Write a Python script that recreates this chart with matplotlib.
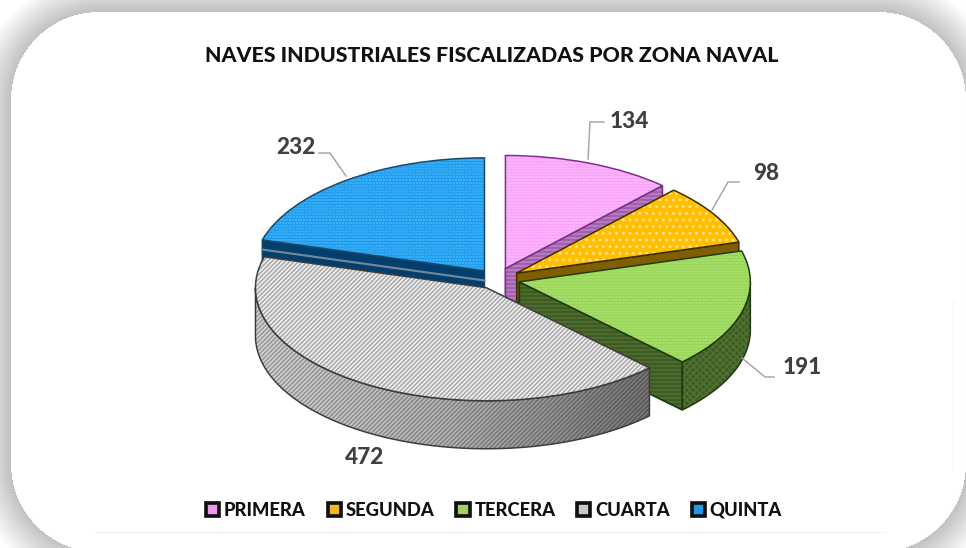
import numpy as np
import matplotlib
matplotlib.use("Agg")
import matplotlib as mpl
import matplotlib.pyplot as plt
from matplotlib.patches import Polygon, Wedge, Patch
from matplotlib.colors import LinearSegmentedColormap

# ---- data -------------------------------------------------
title = "NAVES INDUSTRIALES FISCALIZADAS POR ZONA NAVAL"
zonas = ["PRIMERA", "SEGUNDA", "TERCERA", "CUARTA", "QUINTA"]
naves = [134, 98, 191, 472, 232]
explode = [0.1, 0.1, 0.1, 0.09, 0.09]
# -----------------------------------------------------------

W, H, DPI = 966, 548, 120
FONT = "Lato"
top_col = ["#F99BF9", "#FFBE00", "#92D24E", "#F3F3F3", "#1197EE"]
top_hatch = [".......", "...", ".......", "/////////", "......."]
top_hcol = ["#FFC8FF", "#FFE48A", "#B4E67E", "#ABABAB", "#55BBF8"]
top_hlw = [0.3, 0.5, 0.3, 1.3, 0.3]
edge_col = ["#7A2F8A", "#3C2C00", "#1F3A10", "#3C3C3C", "#1B4766"]
wall_col = ["#A45FAE", "#7F5F00", "#3E5C22", "#999999", "#023F6E"]
wall_hcol = ["#B883C0", "#7F5F00", "#4E7030", "#00000048", "#023F6E"]
wall_hatch = ["-----", "", "-----", "/////////", ""]
draw_order = [0, 1, 4, 2, 3]
rx, ry, cx_px, cy_px, depth_px = 231, 113, 497, 279, 48
depth = depth_px / ry


def with_hatch_lw(patch, lw):
    orig = patch.draw
    def draw(renderer):
        with mpl.rc_context({"hatch.linewidth": lw}):
            orig(renderer)
    patch.draw = draw
    return patch


fig = plt.figure(figsize=(W / DPI, H / DPI), dpi=DPI, facecolor="white")

# card background with soft shadow
bg = fig.add_axes([0, 0, 1, 1], zorder=0)
yy, xx = np.mgrid[0:H, 0:W]
l, t, r_, b, rad = 11, 12, 965, 552, 88
qx = np.abs(xx + .5 - (l + r_) / 2) - ((r_ - l) / 2 - rad)
qy = np.abs(yy + .5 - (t + b) / 2) - ((b - t) / 2 - rad)
dist = np.hypot(np.maximum(qx, 0), np.maximum(qy, 0)) + np.minimum(np.maximum(qx, qy), 0) - rad
shade = 255 - 62 * np.clip(1 - dist / 36, 0, 1)
shade = np.where(dist < 0, 255, shade)
bg.imshow(shade, cmap="gray", vmin=0, vmax=255, aspect="auto", interpolation="bilinear")
bg.axis("off")

# pie axes: one data unit is rx pixels wide and ry pixels tall
ax = fig.add_axes([0, 0, 1, 1], zorder=1)
wedges, _ = ax.pie(naves, explode=explode, startangle=90, counterclock=False, radius=1)
ax.set_aspect("auto")
ax.patch.set_alpha(0)
grad = LinearSegmentedColormap.from_list("g", ["#D8D8D8", "#B8B8B8", "#7A7A7A"])


def arc(c, a1, a2, n=80):
    th = np.radians(np.linspace(a1, a2, n))
    return np.c_[c[0] + np.cos(th), c[1] + np.sin(th)]


for rank, i in enumerate(draw_order):
    w = wedges[i]
    z = 10 * (rank + 1)
    c, t1, t2 = w.center, w.theta1, w.theta2
    # radial cut faces facing the viewer
    for ang, nrm in ((t1, t1 - 90), (t2, t2 + 90)):
        if np.sin(np.radians(nrm)) < -1e-6:
            p = arc(c, ang, ang, 1)[0]
            pts = [c, p, (p[0], p[1] - depth), (c[0], c[1] - depth)]
            ax.add_patch(Polygon(pts, fc=wall_col[i], ec=edge_col[i], lw=0.9, zorder=z))
            if wall_hatch[i]:
                ax.add_patch(with_hatch_lw(Polygon(pts, fc="none", ec=wall_hcol[i], lw=0,
                                                   hatch=wall_hatch[i], zorder=z + 1), 0.8))
                ax.add_patch(Polygon(pts, fc="none", ec=edge_col[i], lw=0.9, zorder=z + 1.5))
            if i == 4:
                ax.plot([c[0], p[0]], [c[1] - depth * .2, p[1] - depth * .2],
                        color="#6F8798", lw=1.3, zorder=z + 1)
    # outer rim in front
    s = np.sin(np.radians(np.linspace(t1, t2, 721)))
    ang = np.linspace(t1, t2, 721)[s <= 0]
    if len(ang) > 2:
        rim = arc(c, ang[0], ang[-1])
        pts = np.r_[rim, (rim - [0, depth])[::-1]]
        if i == 3:
            im = ax.imshow(np.linspace(0, 1, 200)[None, :], cmap=grad, aspect="auto",
                           extent=(pts[:, 0].min(), pts[:, 0].max(), pts[:, 1].min(), pts[:, 1].max()),
                           zorder=z + 2)
            clip = Polygon(pts, fc="none", ec="none", transform=ax.transData)
            ax.add_patch(clip)
            im.set_clip_path(clip)
        else:
            ax.add_patch(Polygon(pts, fc=wall_col[i], ec="none", zorder=z + 2))
        ax.add_patch(with_hatch_lw(Polygon(pts, fc="none", ec=wall_hcol[i], lw=0,
                                           hatch=wall_hatch[i] if i == 3 else "xxxxxx", zorder=z + 3),
                                   1.4 if i == 3 else 0.5))
        ax.add_patch(Polygon(pts, fc="none", ec=edge_col[i], lw=0.9, zorder=z + 4))
    # top face
    w.set(facecolor=top_col[i], edgecolor="none", zorder=z + 5)
    ax.add_patch(with_hatch_lw(Wedge(c, w.r, t1, t2, fc="none", ec=top_hcol[i], lw=0,
                                     hatch=top_hatch[i], zorder=z + 6), top_hlw[i]))
    ax.add_patch(Wedge(c, w.r, t1, t2, fc="none", ec=edge_col[i], lw=0.9, zorder=z + 7))
ax.set_xlim(-cx_px / rx, (W - cx_px) / rx)
ax.set_ylim((cy_px - H) / ry, cy_px / ry)
ax.axis("off")

# annotation layer in pixel coordinates
ov = fig.add_axes([0, 0, 1, 1], zorder=2)
ov.set_xlim(0, W)
ov.set_ylim(H, 0)
ov.axis("off")
ov.patch.set_alpha(0)

ov.text(491.5, 55, title, ha="center", va="center", family=FONT, weight=900,
        fontsize=12.8, color="#111111")

label_xy = [(629, 121), (766, 174), (802, 368), (365, 457), (296, 147)]
leaders = [
    [(588, 159), (590, 122), (604, 122)],
    [(712, 210), (728, 182), (739, 182)],
    [(742, 358), (765, 377), (774, 377)],
    None,
    [(346, 176), (330, 153), (319, 153)],
]
for v, (x, y), ld in zip(naves, label_xy, leaders):
    ov.text(x, y, str(v), ha="center", va="center", family=FONT, weight=900,
            fontsize=13.5, color="#404040")
    if ld:
        ov.plot(*zip(*ld), color="#A6A6A6", lw=0.9, solid_joinstyle="round")

ov.plot([95, 885], [532, 532], color="#F2F2F2", lw=0.8)
ov.plot([953, 953], [300, 470], color="#F7F7F7", lw=0.8)

swatch = ["#EE99EE", "#F5B51E", "#A0D060", "#C8C8C8", "#2496E6"]
handles = [Patch(facecolor=c_, edgecolor="#111111", lw=2.2, label=z_) for c_, z_ in zip(swatch, zonas)]
ov.legend(handles=handles, ncol=5, loc="center", bbox_to_anchor=(494, 510),
          bbox_transform=ov.transData, frameon=False, handlelength=0.72, handleheight=0.72,
          handletextpad=0.26, columnspacing=1.2, borderpad=0,
          prop={"family": FONT, "weight": 900, "size": 11}, labelcolor="#111111")

fig.savefig("out.png", dpi=DPI)
